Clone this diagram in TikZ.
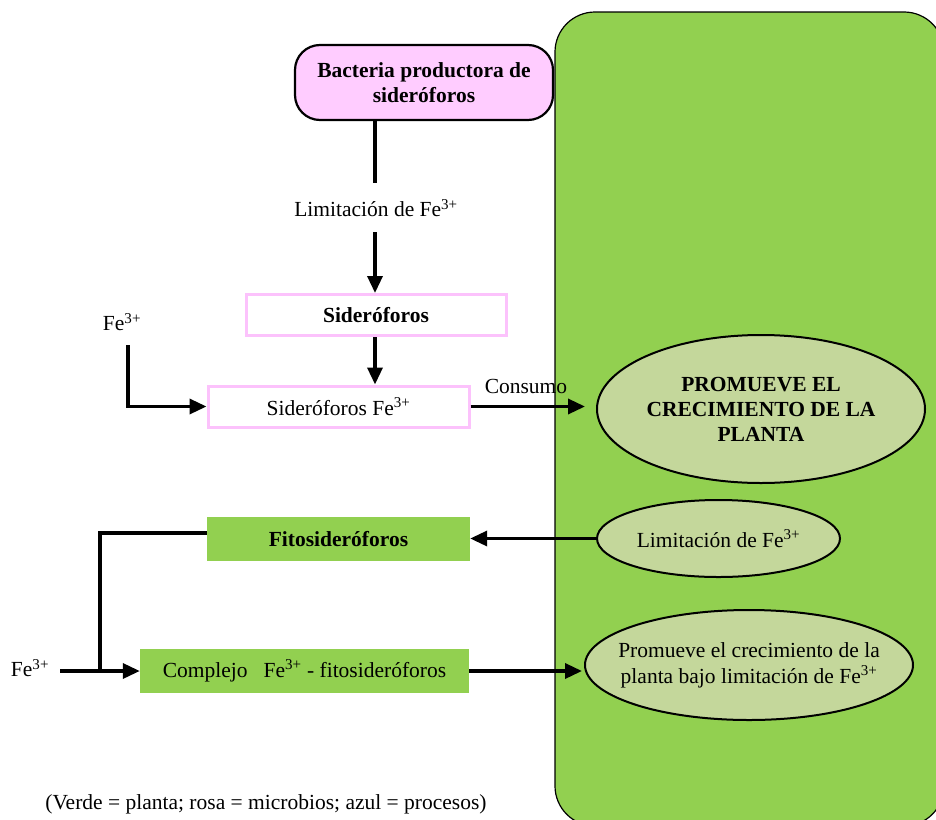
\documentclass[tikz,border=0pt]{standalone}
\usepackage{fontspec}
\setmainfont{Liberation Serif}
\usetikzlibrary{arrows.meta,shapes.geometric}
\definecolor{pinkfill}{HTML}{FFCCFF}
\definecolor{pinkline}{HTML}{FCC2FC}
\definecolor{plantgreen}{HTML}{92D050}
\definecolor{ellfill}{HTML}{C4D79B}
\begin{document}
\begin{tikzpicture}[x=1pt,y=-1pt,
  font=\fontsize{21.5}{25}\selectfont,
  conn/.style={line width=3.4pt},
  arr/.style={conn,-{Triangle[length=17pt,width=15pt]}},
  pinkbox/.style={draw=pinkline,line width=3pt,fill=white,inner sep=0pt},
  greenbox/.style={fill=plantgreen,inner sep=0pt},
  ell/.style={ellipse,draw=black,line width=2pt,fill=ellfill,inner sep=0pt},
  lbl/.style={align=center}]
\useasboundingbox (0,0) rectangle (936,819);
\begin{scope}
\clip (0,0) rectangle (936,819);
\draw[fill=plantgreen,line width=1.2pt,rounded corners=40pt] (555,12) rectangle (944,826);
\end{scope}

\node[draw,line width=2.2pt,fill=pinkfill,rounded corners=25pt,minimum width=258pt,minimum height=75pt,align=center,font=\fontsize{21.5}{25}\selectfont\bfseries] (bact) at (424,82.5) {Bacteria productora de\\sideróforos};
\node (lim1) at (376,208) {Limitación de Fe\textsuperscript{3+}};
\node[pinkbox,minimum width=260pt,minimum height=41pt,font=\fontsize{21.5}{25}\selectfont\bfseries] (sid) at (376,315) {Sideróforos};
\node[pinkbox,minimum width=261pt,minimum height=41pt] (sidfe) at (338.5,406.5) {Sideróforos Fe\textsuperscript{3+}};
\node (fe1) at (122,322) {Fe\textsuperscript{3+}};
\node (cons) at (526,386) {Consumo};

\node[ell,minimum width=328pt,minimum height=148pt] (prom) at (761,409) {};
\node[lbl,font=\fontsize{21.5}{25}\selectfont\bfseries] (promtxt) at (prom) {PROMUEVE EL\\CRECIMIENTO DE LA\\PLANTA};
\node[ell,minimum width=243pt,minimum height=77pt] (lim2) at (718.5,538.5) {};
\node[lbl] (lim2txt) at (lim2) {Limitación de Fe\textsuperscript{3+}};
\node[ell,minimum width=328pt,minimum height=110pt] (prom2) at (749,665) {};
\node[lbl,font=\fontsize{21.5}{26}\selectfont] (prom2txt) at (prom2) {Promueve el crecimiento de la\\planta bajo limitación de Fe\textsuperscript{3+}};

\node[greenbox,minimum width=263pt,minimum height=44pt,font=\fontsize{21.5}{25}\selectfont\bfseries] (fito) at (338.5,539) {Fitosideróforos};
\node[greenbox,minimum width=329pt,minimum height=44pt] (comp) at (304.5,671) {Complejo\ \ \ Fe\textsuperscript{3+} - fitosideróforos};
\node (fe2) at (30,668) {Fe\textsuperscript{3+}};
\node (cap) at (266,804) {(Verde = planta; rosa = microbios; azul = procesos)};

\coordinate (l1end) at (375,183);
\coordinate (l1start) at (375,232);
\coordinate (fe1s) at (128,345);
\coordinate (j) at (100,671);
\coordinate (fe2e) at (60,671);

\draw[conn] (bact.south -| l1end) -- (l1end);
\draw[arr] (l1start) -- (l1start |- sid.north);
\draw[arr] (sid.south -| l1start) -- (l1start |- sidfe.north);
\draw[arr] (fe1s) |- (sidfe.west);
\draw[arr,shorten >=11pt] (sidfe.east) -- (sidfe.east -| prom.west);
\draw[arr] (lim2.west) -- (lim2.west -| fito.east);
\draw[conn] ([yshift=6pt]fito.west) -| (j);
\draw[arr] (fe2e) -- (comp.west);
\draw[arr,shorten >=2pt] (comp.east) -- (comp.east -| prom2.west);
\end{tikzpicture}
\end{document}
